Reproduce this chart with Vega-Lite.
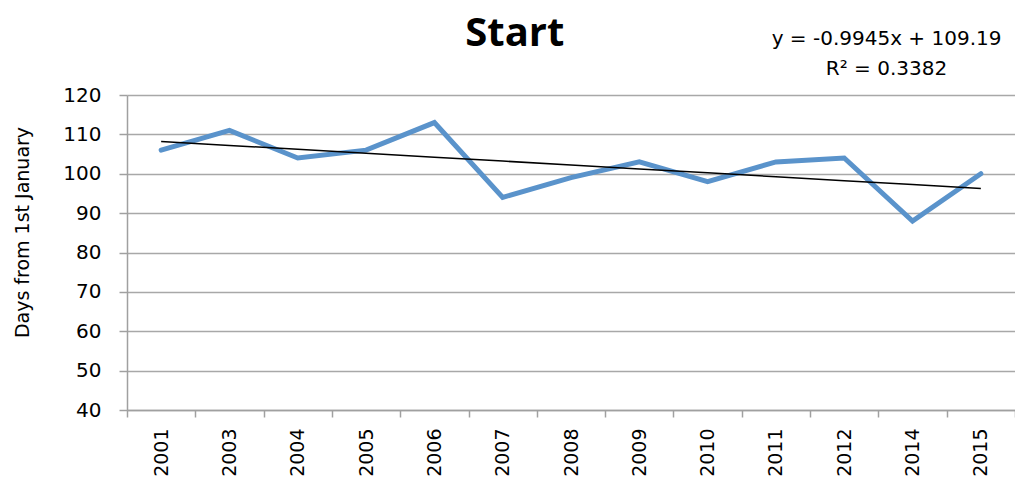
{
  "$schema": "https://vega.github.io/schema/vega-lite/v6.json",
  "width": 888,
  "height": 315,
  "autosize": {"type": "none"},
  "padding": {"left": 127, "top": 95, "right": 0, "bottom": 70},
  "background": "white",
  "config": {
    "font": "DejaVu Sans",
    "view": {"stroke": null},
    "axis": {
      "domainColor": "#A0A0A0",
      "domainWidth": 1.5,
      "tickColor": "#A0A0A0",
      "tickWidth": 1.5,
      "gridColor": "#A8A8A8",
      "gridWidth": 1.5,
      "labelColor": "black",
      "titleColor": "black",
      "labelFont": "DejaVu Sans",
      "titleFont": "DejaVu Sans"
    },
    "axisY": {
      "title": "Days from 1st January",
      "titleFontSize": 19,
      "titleFontWeight": "normal",
      "titlePadding": 30,
      "titleY": 137,
      "values": [40, 50, 60, 70, 80, 90, 100, 110, 120],
      "tickCount": 9,
      "labelOverlap": false,
      "tickSize": 8,
      "labelPadding": 18,
      "labelFontSize": 20,
      "grid": true
    },
    "axisX": {
      "title": null,
      "tickBand": "extent",
      "tickSize": 7,
      "labelAngle": -90,
      "labelPadding": 11,
      "labelFontSize": 19,
      "grid": false
    }
  },
  "title": {
    "text": "Start",
    "font": "Open Sans",
    "fontSize": 40,
    "fontWeight": "bold",
    "color": "black",
    "anchor": "middle",
    "frame": "bounds",
    "offset": -25
  },
  "data": {
    "values": [
      {"year": "2001", "days": 106, "trend": 108.2},
      {"year": "2003", "days": 111, "trend": 107.2},
      {"year": "2004", "days": 104, "trend": 106.21},
      {"year": "2005", "days": 106, "trend": 105.21},
      {"year": "2006", "days": 113, "trend": 104.22},
      {"year": "2007", "days": 94, "trend": 103.22},
      {"year": "2008", "days": 99, "trend": 102.23},
      {"year": "2009", "days": 103, "trend": 101.23},
      {"year": "2010", "days": 98, "trend": 100.24},
      {"year": "2011", "days": 103, "trend": 99.25},
      {"year": "2012", "days": 104, "trend": 98.25},
      {"year": "2014", "days": 88, "trend": 97.26},
      {"year": "2015", "days": 100, "trend": 96.26}
    ]
  },
  "encoding": {
    "x": {
      "field": "year",
      "type": "ordinal",
      "title": null,
      "scale": {"type": "band", "paddingInner": 0, "paddingOuter": 0}
    }
  },
  "layer": [
    {
      "mark": {"type": "line", "color": "#5A93CB", "strokeWidth": 5, "strokeJoin": "miter", "strokeCap": "round"},
      "encoding": {
        "y": {
          "field": "days",
          "type": "quantitative",
          "title": "Days from 1st January",
          "scale": {"domain": [40, 120], "nice": false, "zero": false}
        }
      }
    },
    {
      "mark": {"type": "line", "color": "black", "strokeWidth": 1.5},
      "encoding": {
        "y": {"field": "trend", "type": "quantitative", "title": "Days from 1st January"}
      }
    },
    {
      "data": {"values": [{"eq": ["y = -0.9945x + 109.19", "R² = 0.3382"]}]},
      "mark": {"type": "text", "fontSize": 20, "align": "center", "baseline": "alphabetic", "lineHeight": 30, "dx": -26, "color": "black"},
      "encoding": {
        "x": {"datum": "2014", "title": null},
        "y": {"datum": 132.7, "type": "quantitative", "title": "Days from 1st January"},
        "text": {"field": "eq"}
      }
    }
  ]
}
